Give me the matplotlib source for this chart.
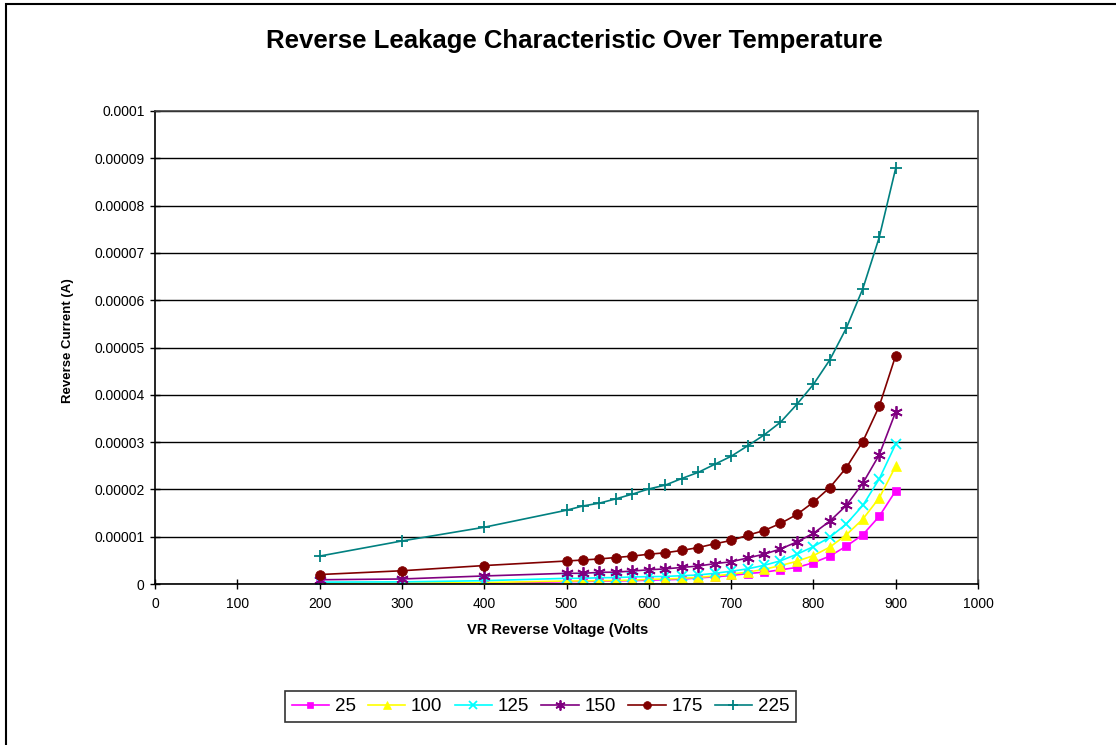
import matplotlib
matplotlib.use("Agg")
import matplotlib.pyplot as plt
from matplotlib.patches import Rectangle
from matplotlib.ticker import MultipleLocator

plt.rcParams['font.family'] = ['Liberation Sans', 'DejaVu Sans']

voltage = [200, 300, 400, 500, 520, 540, 560, 580, 600, 620, 640, 660, 680,
           700, 720, 740, 760, 780, 800, 820, 840, 860, 880, 900]

i_25 = [0.05e-6, 0.08e-6, 0.15e-6, 0.5e-6, 0.55e-6, 0.6e-6, 0.65e-6, 0.7e-6,
        0.8e-6, 0.9e-6, 1.0e-6, 1.3e-6, 1.5e-6, 1.8e-6, 2.2e-6, 2.5e-6,
        3.0e-6, 3.5e-6, 4.5e-6, 5.9e-6, 8.0e-6, 10.4e-6, 14.3e-6, 19.7e-6]
i_100 = [0.1e-6, 0.15e-6, 0.3e-6, 0.63e-6, 0.65e-6, 0.7e-6, 0.75e-6, 0.8e-6,
         1.0e-6, 1.05e-6, 1.2e-6, 1.4e-6, 1.7e-6, 2.1e-6, 2.5e-6, 3.1e-6,
         3.9e-6, 4.8e-6, 6.0e-6, 7.8e-6, 10.4e-6, 13.7e-6, 18.2e-6, 24.9e-6]
i_125 = [0.4e-6, 0.45e-6, 0.7e-6, 1.2e-6, 1.2e-6, 1.33e-6, 1.35e-6, 1.5e-6,
         1.55e-6, 1.6e-6, 1.76e-6, 1.9e-6, 2.26e-6, 2.7e-6, 3.2e-6, 3.95e-6,
         4.9e-6, 6.3e-6, 7.9e-6, 9.9e-6, 12.7e-6, 16.6e-6, 22.2e-6, 29.6e-6]
i_150 = [0.9e-6, 1.06e-6, 1.7e-6, 2.26e-6, 2.26e-6, 2.47e-6, 2.5e-6, 2.75e-6,
         3.0e-6, 3.2e-6, 3.5e-6, 3.8e-6, 4.3e-6, 4.7e-6, 5.5e-6, 6.3e-6,
         7.4e-6, 8.9e-6, 10.7e-6, 13.3e-6, 16.6e-6, 21.3e-6, 27.3e-6, 36.4e-6]
i_175 = [2.0e-6, 2.8e-6, 3.9e-6, 4.86e-6, 5.07e-6, 5.3e-6, 5.6e-6, 5.9e-6,
         6.3e-6, 6.6e-6, 7.1e-6, 7.7e-6, 8.5e-6, 9.2e-6, 10.3e-6, 11.3e-6,
         12.8e-6, 14.7e-6, 17.3e-6, 20.4e-6, 24.6e-6, 30.1e-6, 37.6e-6, 48.3e-6]
i_225 = [5.9e-6, 9.1e-6, 12.0e-6, 15.6e-6, 16.5e-6, 17.1e-6, 18.0e-6, 19.0e-6,
         20.1e-6, 20.9e-6, 22.3e-6, 23.6e-6, 25.3e-6, 27.0e-6, 29.2e-6, 31.5e-6,
         34.2e-6, 38.0e-6, 42.2e-6, 47.4e-6, 54.1e-6, 62.4e-6, 73.3e-6, 87.9e-6]

series_labels = ['25', '100', '125', '150', '175', '225']
series_values = [i_25, i_100, i_125, i_150, i_175, i_225]
colors = ['#FF00FF', '#FFFF00', '#00FFFF', '#800080', '#800000', '#008080']
markers = ['s', '^', 'x', (6, 2, 0), 'o', '+']
msizes = [6, 7, 7, 9, 7, 9]

ytick_labels = ['0', '0.00001', '0.00002', '0.00003', '0.00004', '0.00005',
                '0.00006', '0.00007', '0.00008', '0.00009', '0.0001']

W, H = 1116, 745
fig = plt.figure(figsize=(W / 100, H / 100), dpi=100)
fig.patch.set_facecolor('white')

# outer chart border (left/top visible)
fig.patches.append(Rectangle((6 / W, -0.05), 1.2, (H - 4) / H + 0.05,
                             transform=fig.transFigure, fill=False,
                             edgecolor='black', linewidth=1.5))

ax = fig.add_axes([155 / W, 1 - 584 / H, (978 - 155) / W, (584 - 111) / H])

for lab, vals, c, m, ms in zip(series_labels, series_values, colors, markers, msizes):
    ax.plot(voltage, vals, color=c, marker=m, markersize=ms, linewidth=1.2,
            markeredgewidth=1.3 if m in ('x', '+', (6, 2, 0)) else 0.5,
            markeredgecolor=c, label=lab)

ax.set_xlim(0, 1000)
ax.set_ylim(0, 0.0001)
ax.xaxis.set_major_locator(MultipleLocator(100))
ax.set_yticks([i * 0.00001 for i in range(11)])
ax.set_yticklabels(ytick_labels)
ax.yaxis.grid(True, color='black', linewidth=1.0)
ax.set_axisbelow(True)

for s in ['left', 'bottom']:
    ax.spines[s].set_color('black')
    ax.spines[s].set_linewidth(1.2)
for s in ['right', 'top']:
    ax.spines[s].set_color('#404040')
    ax.spines[s].set_linewidth(1.2)

ax.tick_params(axis='both', direction='inout', length=7, width=1,
               labelsize=10, colors='black')
ax.tick_params(axis='y', pad=4)
ax.tick_params(axis='x', pad=6)

fig.text(574 / W, 1 - 41 / H, 'Reverse Leakage Characteristic Over Temperature',
         ha='center', va='center', fontsize=18.5, fontweight='bold')
fig.text(558 / W, 1 - 630 / H, 'VR Reverse Voltage (Volts', ha='center',
         va='center', fontsize=10.5, fontweight='bold')
fig.text(68 / W, 1 - 341 / H, 'Reverse Current (A)', ha='center', va='center',
         rotation=90, fontsize=9.5, fontweight='bold')

handles, labels = ax.get_legend_handles_labels()
leg = fig.legend(handles, labels, loc='center', ncol=6,
                 bbox_to_anchor=(540.5 / W, 1 - 706.5 / H), fontsize=13.5,
                 frameon=True, fancybox=False, edgecolor='black',
                 handlelength=2.0, handletextpad=0.3, columnspacing=0.65,
                 borderpad=0.35, borderaxespad=0, markerscale=0.8)
leg.get_frame().set_linewidth(1.2)

fig.savefig('out.png', dpi=100)
